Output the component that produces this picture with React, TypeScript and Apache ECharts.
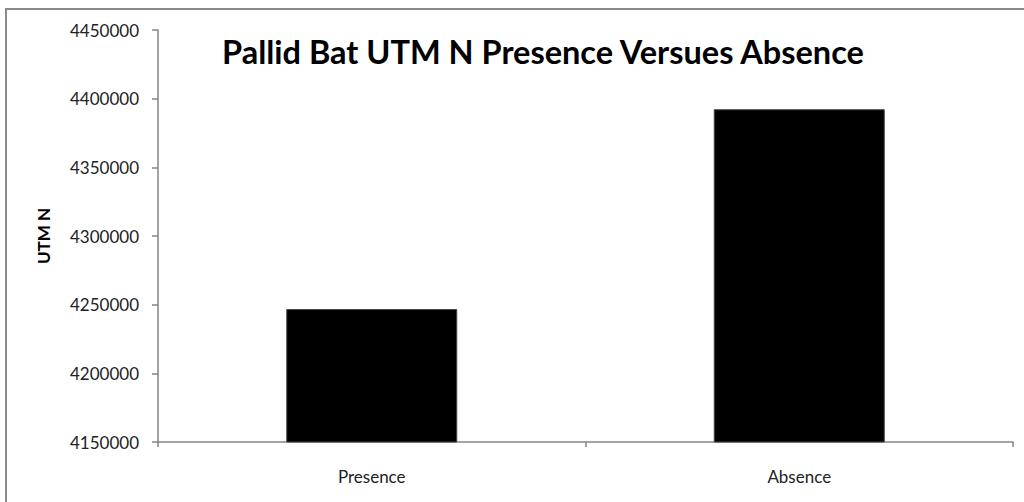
import React, { useEffect, useRef } from "react";
import * as echarts from "echarts";

const categories: string[] = ["Presence", "Absence"];
const utmN: number[] = [4246800, 4392300];
const yMin = 4150000;
const yMax = 4450000;
const yInterval = 50000;
const titleText = "Pallid Bat UTM N Presence Versues Absence";
const yAxisName = "UTM N";

export default function App() {
  const ref = useRef<HTMLDivElement>(null);
  useEffect(() => {
    if (!ref.current) return;
    const chart = echarts.init(ref.current, null, { renderer: "svg" });
    const font = "Lato, 'Open Sans', sans-serif";
    chart.setOption({
      animation: false,
      backgroundColor: "#ffffff",
      title: {
        text: titleText,
        left: 538,
        top: 30,
        textAlign: "center",
        textStyle: { fontFamily: font, fontWeight: "bold", fontSize: 32.5, color: "#000" },
      },
      graphic: [
        {
          type: "rect",
          shape: { x: 6, y: 9, width: 1040, height: 520 },
          style: { fill: "none", stroke: "#8a8a8a", lineWidth: 2 },
          silent: true,
        },
      ],
      grid: { left: 158, right: 11, top: 30, bottom: 60, containLabel: false },
      xAxis: {
        type: "category",
        data: categories,
        boundaryGap: true,
        axisLine: { lineStyle: { color: "#868686", width: 1.5 } },
        axisTick: { show: true, length: 5, lineStyle: { color: "#868686", width: 1.5 } },
        axisLabel: { fontFamily: font, fontSize: 17, color: "#222", margin: 26 },
      },
      yAxis: {
        type: "value",
        min: yMin,
        max: yMax,
        interval: yInterval,
        name: yAxisName,
        nameLocation: "middle",
        nameGap: 106,
        nameRotate: 90,
        nameTextStyle: { fontFamily: font, fontWeight: "bold", fontSize: 17, color: "#000" },
        axisLine: { show: true, lineStyle: { color: "#868686", width: 1.5 } },
        axisTick: { show: true, length: 6, lineStyle: { color: "#868686", width: 1.5 } },
        splitLine: { show: false },
        axisLabel: {
          fontFamily: font,
          fontSize: 17,
          color: "#222",
          margin: 19,
          formatter: (v: number) => String(v),
        },
      },
      series: [
        {
          type: "bar",
          data: utmN,
          barWidth: "40%",
          itemStyle: { color: "#000", borderColor: "#444", borderWidth: 1 },
        },
      ],
    });
    return () => chart.dispose();
  }, []);
  return (
    <div
      ref={ref}
      style={{ position: "absolute", left: 0, top: 0, width: 1024, height: 502 }}
    />
  );
}
